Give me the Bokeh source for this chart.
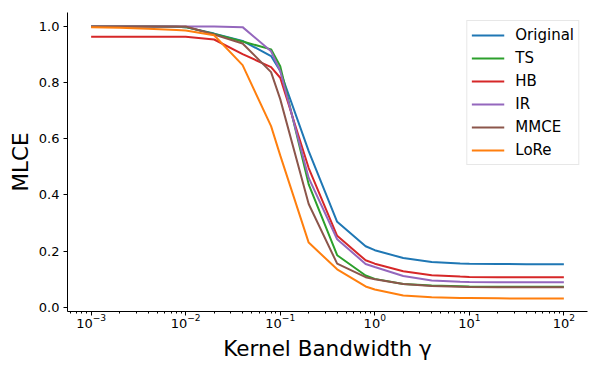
from bokeh.plotting import figure
from bokeh.models import Range1d, FixedTicker, LogTickFormatter, PrintfTickFormatter, Legend, LegendItem
from bokeh.embed import file_html
from bokeh.resources import INLINE

gamma = [0.001, 0.002, 0.004, 0.008, 0.01, 0.02, 0.04, 0.08, 0.1, 0.2, 0.4,
         0.8, 1, 2, 4, 8, 10, 20, 40, 80, 100]

original = [0.998, 0.998, 0.998, 0.997, 0.996, 0.973, 0.947, 0.893, 0.84, 0.555, 0.304,
            0.217, 0.203, 0.175, 0.161, 0.156, 0.155, 0.154, 0.153, 0.153, 0.153]
ts = [0.998, 0.998, 0.998, 0.997, 0.996, 0.972, 0.945, 0.917, 0.857, 0.437, 0.185,
      0.113, 0.101, 0.083, 0.077, 0.075, 0.074, 0.073, 0.073, 0.073, 0.073]
hb = [0.962, 0.962, 0.962, 0.962, 0.962, 0.952, 0.900, 0.854, 0.816, 0.495, 0.254,
      0.167, 0.155, 0.128, 0.114, 0.109, 0.108, 0.107, 0.107, 0.107, 0.107]
ir = [0.998, 0.998, 0.998, 0.998, 0.998, 0.998, 0.996, 0.910, 0.840, 0.460, 0.242,
      0.154, 0.143, 0.111, 0.095, 0.091, 0.090, 0.089, 0.089, 0.089, 0.089]
mmce = [0.998, 0.998, 0.998, 0.998, 0.998, 0.970, 0.938, 0.836, 0.740, 0.367, 0.155,
        0.107, 0.100, 0.083, 0.076, 0.073, 0.072, 0.071, 0.071, 0.071, 0.071]
lore = [0.996, 0.994, 0.990, 0.986, 0.984, 0.967, 0.861, 0.644, 0.540, 0.230, 0.135,
        0.074, 0.063, 0.042, 0.036, 0.033, 0.033, 0.032, 0.031, 0.031, 0.031]

series = [("Original", original, "#1f77b4"),
          ("TS", ts, "#2ca02c"),
          ("HB", hb, "#d62728"),
          ("IR", ir, "#9467bd"),
          ("MMCE", mmce, "#8c564b"),
          ("LoRe", lore, "#ff7f0e")]

x_ticks = [1e-3, 1e-2, 1e-1, 1e0, 1e1, 1e2]
y_ticks = [0.0, 0.2, 0.4, 0.6, 0.8, 1.0]

FONT = "DejaVu Sans"

p = figure(width=598, height=374, x_axis_type="log",
           x_range=Range1d(10 ** -3.25, 10 ** 2.25), y_range=Range1d(-0.015, 1.048),
           output_backend="svg", toolbar_location=None,
           min_border_left=67, min_border_right=11, min_border_top=12, min_border_bottom=63)
p.outline_line_color = None
p.xgrid.visible = False
p.ygrid.visible = False

items = []
for name, vals, col in series:
    r = p.line(gamma, vals, line_color=col, line_width=2)
    items.append(LegendItem(label=name, renderers=[r]))

minor = [k * 10.0 ** e for e in range(-4, 3) for k in range(2, 10)]
p.xaxis.ticker = FixedTicker(ticks=x_ticks, minor_ticks=minor)
p.xaxis.formatter = LogTickFormatter(min_exponent=0)
p.yaxis.ticker = FixedTicker(ticks=y_ticks, minor_ticks=[])
p.yaxis.formatter = PrintfTickFormatter(format="%.1f")

for ax in (p.xaxis, p.yaxis):
    ax.axis_line_color = "black"
    ax.axis_line_width = 1
    ax.major_tick_line_color = "black"
    ax.minor_tick_line_color = "black"
    ax.major_tick_out = 4
    ax.major_tick_in = 0
    ax.minor_tick_out = 2
    ax.minor_tick_in = 0
    ax.major_label_text_font = FONT
    ax.major_label_text_font_size = "13px"
    ax.major_label_text_color = "black"
    ax.axis_label_text_font = FONT
    ax.axis_label_text_font_size = "21.5px"
    ax.axis_label_text_font_style = "normal"
    ax.axis_label_text_color = "black"

p.yaxis.minor_tick_out = 0
p.xaxis.major_label_standoff = -2
p.yaxis.major_label_standoff = 4
p.xaxis.axis_label = "Kernel Bandwidth γ"
p.yaxis.axis_label = "MLCE"
p.xaxis.axis_label_standoff = 5
p.yaxis.axis_label_standoff = 3

legend = Legend(items=items, location="top_right")
legend.label_text_font = FONT
legend.label_text_font_size = "15px"
legend.label_text_color = "black"
legend.glyph_width = 33
legend.glyph_height = 20
legend.label_height = 20
legend.label_standoff = 11
legend.spacing = 3
legend.padding = 4
legend.margin = 8
legend.border_line_color = "#d0d0d0"
legend.border_line_width = 1
legend.background_fill_alpha = 0.8
p.add_layout(legend)

open("out.html", "w").write(file_html(p, INLINE))
